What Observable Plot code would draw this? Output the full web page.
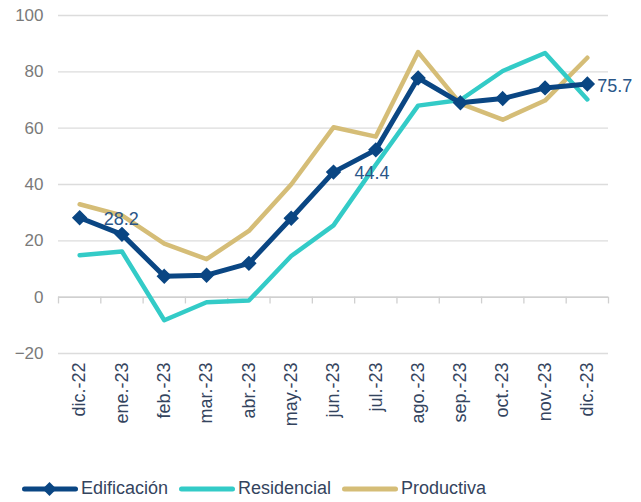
<!DOCTYPE html>
<html>
<head>
<meta charset="utf-8">
<script src="https://cdn.jsdelivr.net/npm/d3@7"></script>
<script src="https://cdn.jsdelivr.net/npm/@observablehq/plot@0.6"></script>
<style>
  html, body { margin: 0; padding: 0; background: #fff; }
  body { width: 641px; height: 502px; overflow: hidden; font-family: "Liberation Sans", Arial, sans-serif; }
  #legend { position: relative; height: 62px; }
  .item { position: absolute; top: 38px; display: flex; align-items: center; font-size: 18px; color: #34445e; }
  .item svg { margin-right: 3px; }
</style>
</head>
<body>
<div id="chart"></div>
<div id="legend"></div>
<script>
const months = ["dic.-22","ene.-23","feb.-23","mar.-23","abr.-23","may.-23","jun.-23","jul.-23","ago.-23","sep.-23","oct.-23","nov.-23","dic.-23"];
const edificacion = [28.2, 22.3, 7.4, 7.8, 12.0, 28.0, 44.4, 52.3, 77.8, 69.0, 70.5, 74.3, 75.7];
const residencial = [14.9, 16.2, -8.2, -1.8, -1.2, 14.6, 25.5, 47.0, 68.0, 70.0, 80.3, 86.7, 70.2];
const productiva  = [33.0, 29.0, 19.0, 13.5, 23.5, 40.0, 60.3, 57.0, 87.0, 68.7, 63.0, 69.8, 85.0];
const yTicks = [-20, 0, 20, 40, 60, 80, 100];
const labelled = ["dic.-22", "jun.-23", "dic.-23"];

const series = [
  {name: "Edificación", color: "#0a4683"},
  {name: "Residencial", color: "#33cbc7"},
  {name: "Productiva", color: "#d5bd77"}
];

const table = months.map((m, i) => ({i, month: m, edificacion: edificacion[i], residencial: residencial[i], productiva: productiva[i]}));
const bounds = months.map((_, i) => i - 0.5).concat([months.length - 0.5]);
const lab = (m) => table.filter(d => d.month === m);

const chart = Plot.plot({
  width: 641,
  height: 440,
  marginLeft: 58,
  marginRight: 33,
  marginTop: 15,
  marginBottom: 87,
  style: {fontFamily: "Liberation Sans, Arial, sans-serif", background: "#fff"},
  x: {domain: [-0.5, months.length - 0.5]},
  y: {domain: [-20, 100]},
  marks: [
    Plot.gridY(yTicks, {stroke: "#dcdcdc", strokeOpacity: 1, strokeWidth: 1.3}),
    Plot.axisY(yTicks, {tickSize: 0, tickPadding: 15, fontSize: 17, color: "#7a7a7a", label: null}),
    Plot.ruleY([0], {stroke: "#d0d0d0", strokeWidth: 1.5}),
    Plot.ruleX(bounds, {x: d => d, y1: 0, y2: -2.4, stroke: "#d0d0d0", strokeWidth: 1.3}),
    Plot.axisX(d3.range(months.length), {tickFormat: i => months[i], tickRotate: -90, tickSize: 0, tickPadding: 9, fontSize: 18, color: "#34445e", label: null}),
    Plot.line(table, {x: "i", y: "productiva", stroke: series[2].color, strokeWidth: 4.5, strokeLinejoin: "round"}),
    Plot.line(table, {x: "i", y: "residencial", stroke: series[1].color, strokeWidth: 4.5, strokeLinejoin: "round"}),
    Plot.line(table, {x: "i", y: "edificacion", stroke: series[0].color, strokeWidth: 5, strokeLinejoin: "round"}),
    Plot.dot(table, {x: "i", y: "edificacion", symbol: "diamond2", r: 6, fill: series[0].color, stroke: series[0].color, strokeWidth: 1.5}),
    Plot.text(lab("dic.-22"), {x: "i", y: "edificacion", text: d => d.edificacion.toFixed(1), dx: 24, dy: 1, textAnchor: "start", fontSize: 18, fill: "#2a5688"}),
    Plot.text(lab("jun.-23"), {x: "i", y: "edificacion", text: d => d.edificacion.toFixed(1), dx: 21, dy: 1, textAnchor: "start", fontSize: 18, fill: "#2a5688"}),
    Plot.text(lab("dic.-23"), {x: "i", y: "edificacion", text: d => d.edificacion.toFixed(1), dx: 10, dy: 2, textAnchor: "start", fontSize: 18, fill: "#2a5688"})
  ]
});
document.getElementById("chart").appendChild(chart);

const legend = document.getElementById("legend");
const lefts = [22, 179, 342];
series.forEach((s, k) => {
  const div = document.createElement("div");
  div.className = "item";
  div.style.left = lefts[k] + "px";
  const diamond = k === 0 ? `<path d="M27.5,3 L34.5,10 L27.5,17 L20.5,10 Z" fill="${s.color}"/>` : "";
  div.innerHTML = `<svg width="56" height="20"><line x1="2.5" y1="10" x2="53.5" y2="10" stroke="${s.color}" stroke-width="5" stroke-linecap="round"/>${diamond}</svg><span>${s.name}</span>`;
  legend.appendChild(div);
});
</script>
</body>
</html>
